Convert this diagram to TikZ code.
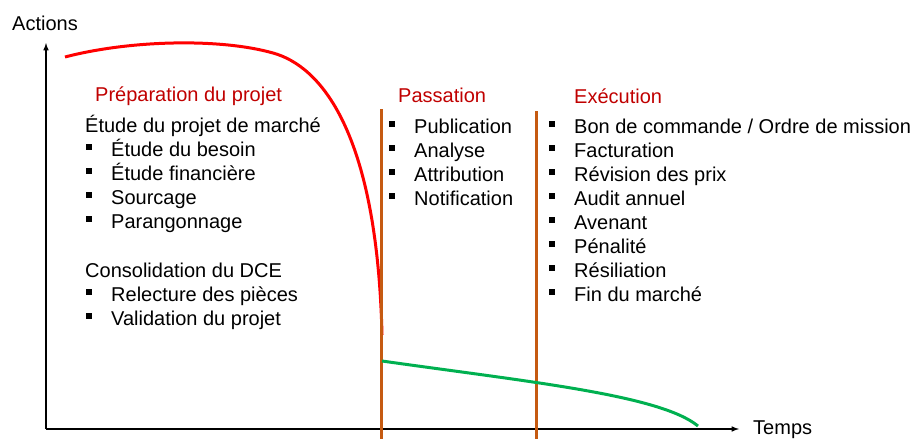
\documentclass[tikz,border=0pt]{standalone}
\usepackage{fontspec}
\setmainfont{Liberation Sans}
\usetikzlibrary{positioning, calc}

\definecolor{titre}{HTML}{C00000}
\definecolor{jalon}{HTML}{C55A11}
\definecolor{vert}{HTML}{00B050}
\newcommand\puce{\llap{\rule[6pt]{6pt}{6pt}\hspace{19pt}}}

\tikzset{
	txt/.style={anchor=base west, inner sep=0pt, font=\fontsize{20}{24}\selectfont},
	titre/.style={txt, text=titre},
	jalon/.style={draw=jalon, line width=3pt},
}

\begin{document}
\begin{tikzpicture}[x=1pt, y=-1pt]
			\useasboundingbox (0,0) rectangle (917,439);
			\coordinate (origin) at (46, 429);
			\coordinate (ytip) at (46, 43);
			\coordinate (xtip) at (739, 429);
			\node[txt] (actions) at (12, 30) {Actions};
			\node[txt] (temps) at (753, 434) {Temps};
			
			\coordinate (p0) at (381.5, 109);
			\coordinate (p1) at (381.5, 439);
			\coordinate (e0) at (536.5, 111);
			\coordinate (e1) at (536.5, 439);
			\coordinate (r0) at (65, 57);
			\coordinate (r1) at (273, 53);
			\coordinate (r2) at (382, 335);
			\coordinate (g0) at (382, 361);
			\coordinate (g1) at (698, 426);
			
			\node[titre] (prep) at (95, 101) {Préparation du projet};
			\node[txt] (etude) at (85, 132) {Étude du projet de marché};
			\node[txt] (1) at (111, 156) {\puce Étude du besoin};
			\node[txt] (2) at (111, 180) {\puce Étude financière};
			\node[txt] (3) at (111, 204) {\puce Sourcage};
			\node[txt] (4) at (111, 228) {\puce Parangonnage};
			\node[txt] (conso) at (85, 277) {Consolidation du DCE};
			\node[txt] (5) at (111, 301) {\puce Relecture des pièces};
			\node[txt] (6) at (111, 325) {\puce Validation du projet};
			
			\node[titre] (pass) at (398, 102) {Passation};
			\node[txt] (7) at (414, 133) {\puce Publication};
			\node[txt] (8) at (414, 157) {\puce Analyse};
			\node[txt] (9) at (414, 181) {\puce Attribution};
			\node[txt] (10) at (414, 205) {\puce Notification};
			
			\node[titre] (exec) at (574, 103) {Exécution};
			\node[txt] (11) at (574, 133) {\puce Bon de commande / Ordre de mission};
			\node[txt] (12) at (574, 157) {\puce Facturation};
			\node[txt] (13) at (574, 181) {\puce Révision des prix};
			\node[txt] (14) at (574, 205) {\puce Audit annuel};
			\node[txt] (15) at (574, 229) {\puce Avenant};
			\node[txt] (16) at (574, 253) {\puce Pénalité};
			\node[txt] (17) at (574, 277) {\puce Résiliation};
			\node[txt] (18) at (574, 301) {\puce Fin du marché};
			
			\draw[line width=1.5pt, -latex] (origin) -- (ytip);
			\draw[line width=1.5pt, -latex] (origin) -- (xtip);
			\draw[red, line width=3pt] (r0) .. controls (130,40) and (220,38) .. (r1) .. controls (320,66) and (377,130) .. (r2);
			\draw[jalon] (p0) -- (p1);
			\draw[jalon] (e0) -- (e1);
			\draw[vert, line width=3pt] (g0) .. controls (530,382) and (660,395) .. (g1);
		\end{tikzpicture}
\end{document}
